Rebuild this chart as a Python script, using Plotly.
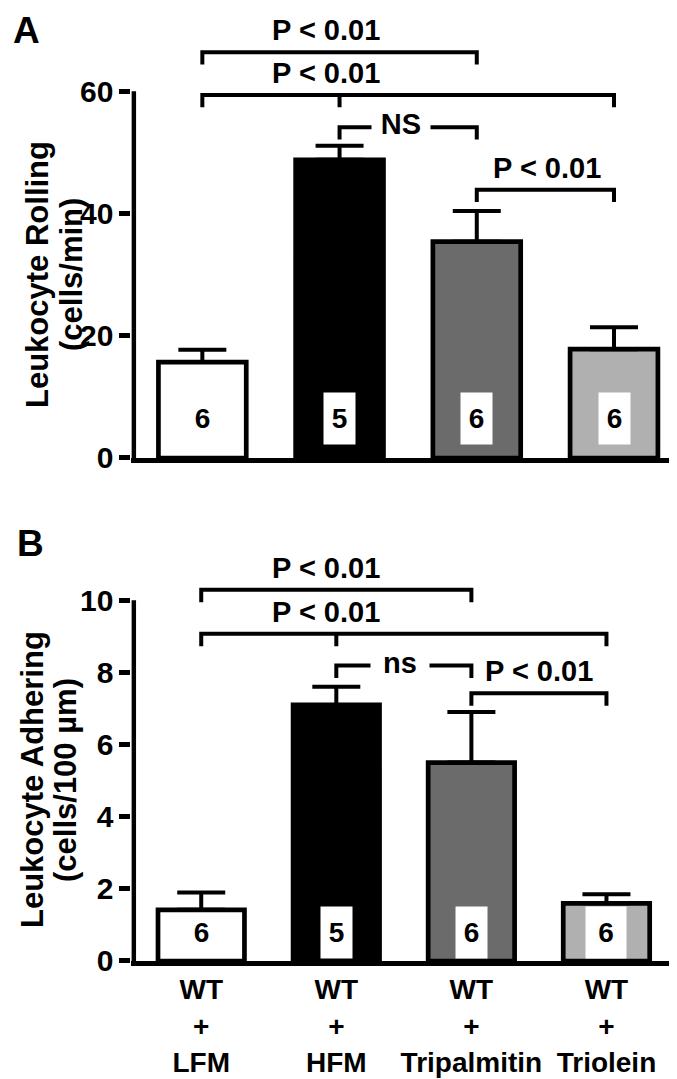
import plotly.graph_objects as go

# ---------------- data ----------------
groups = ["LFM", "HFM", "Tripalmitin", "Triolein"]
tick_text = ["WT<br>+<br>LFM", "WT<br>+<br>HFM", "WT<br>+<br>Tripalmitin", "WT<br>+<br>Triolein"]
n_mice = [6, 5, 6, 6]

rolling_mean = [15.7, 48.8, 35.4, 17.8]
rolling_sem = [2.0, 2.3, 5.0, 3.6]

adhering_mean = [1.42, 7.1, 5.5, 1.6]
adhering_sem = [0.48, 0.5, 1.4, 0.25]

rolling_ticks = [0, 20, 40, 60]
adhering_ticks = [0, 2, 4, 6, 8, 10]

# brackets: (start group, end group, level, label, label position, middle tick group)
brackets_rolling = [
    (0, 2, 66.4, "P < 0.01", 0.9, None),
    (0, 3, 59.4, "P < 0.01", 0.9, 1),
    (1, 2, 54.1, "NS", 1.45, None),
    (2, 3, 43.9, "P < 0.01", 2.51, None),
]
brackets_adhering = [
    (0, 2, 10.29, "P < 0.01", 0.92, None),
    (0, 3, 9.07, "P < 0.01", 0.92, 1),
    (1, 2, 8.19, "ns", 1.47, None),
    (2, 3, 7.42, "P < 0.01", 2.5, None),
]

# ---------------- style ----------------
W, H = 677, 1079
FONT = "Liberation Sans, Arial, Helvetica, sans-serif"
bar_colors = ["#ffffff", "#000000", "#6b6b6b", "#b0b0b0"]
LW = 4.7

def px_x(p):
    return p / W

def px_y(p):
    return 1 - p / H

fig = go.Figure()

positions = list(range(len(groups)))

panels = [
    dict(mean=rolling_mean, sem=rolling_sem, xa="x", ya="y", top=rolling_ticks[-1]),
    dict(mean=adhering_mean, sem=adhering_sem, xa="x2", ya="y2", top=adhering_ticks[-1]),
]

for p in panels:
    fig.add_trace(go.Bar(
        x=positions, y=p["mean"], xaxis=p["xa"], yaxis=p["ya"],
        width=0.64,
        marker=dict(color=bar_colors, line=dict(color="black", width=LW)),
        error_y=dict(type="data", array=p["sem"], arrayminus=[0] * len(p["sem"]),
                     symmetric=False, color="black", thickness=4, width=24),
        showlegend=False, hoverinfo="skip",
    ))
    # vertical axis line, from 0 up to the top tick only
    fig.add_trace(go.Scatter(
        x=[-0.5, -0.5], y=[0, p["top"]], xaxis=p["xa"], yaxis=p["ya"],
        mode="lines", line=dict(color="black", width=LW),
        showlegend=False, hoverinfo="skip",
    ))

annotations = []
label_font = dict(family=FONT, size=29, color="black", weight="bold")
n_font = dict(family=FONT, size=28, color="black", weight="bold")

def add_brackets(brackets, xa, ya, tip):
    for (a, b, lvl, label, lx, mid) in brackets:
        fig.add_trace(go.Scatter(
            x=[a, a, b, b], y=[lvl - tip, lvl, lvl, lvl - tip], xaxis=xa, yaxis=ya,
            mode="lines", line=dict(color="black", width=4), cliponaxis=False,
            showlegend=False, hoverinfo="skip",
        ))
        if mid is not None:
            fig.add_trace(go.Scatter(
                x=[mid, mid], y=[lvl, lvl - tip], xaxis=xa, yaxis=ya,
                mode="lines", line=dict(color="black", width=4), cliponaxis=False,
                showlegend=False, hoverinfo="skip",
            ))
        if label.lower() == "ns":
            annotations.append(dict(
                x=lx, y=lvl, xref=xa, yref=ya, text=label, showarrow=False,
                font=label_font, bgcolor="white", width=56, height=30, yshift=3,
            ))
        else:
            annotations.append(dict(
                x=lx, y=lvl, xref=xa, yref=ya, text=label, showarrow=False,
                font=label_font, yshift=22,
            ))

add_brackets(brackets_rolling, "x", "y", 2.0)
add_brackets(brackets_adhering, "x2", "y2", 0.345)

# n labels in white boxes
for i, n in enumerate(n_mice):
    box = "white" if bar_colors[i] != "#ffffff" else "rgba(0,0,0,0)"
    annotations.append(dict(
        x=i, y=6.5, xref="x", yref="y", text=str(n), showarrow=False,
        font=n_font, bgcolor=box, width=31, height=51, borderpad=0,
    ))
    annotations.append(dict(
        x=i, y=0.79, xref="x2", yref="y2", text=str(n), showarrow=False,
        font=n_font, bgcolor=box, width=40 if i == 3 else 31, height=51, borderpad=0,
    ))

# axis titles
title_font = dict(family=FONT, size=31, color="black", weight="bold")
for text, xp, yp in [("Leukocyte Rolling", 30, 267), ("(cells/min)", 64, 267),
                     ("Leukocyte Adhering", 24, 772), ("(cells/100 µm)", 57, 772)]:
    annotations.append(dict(
        x=px_x(xp), y=px_y(yp), xref="paper", yref="paper", text=text,
        textangle=-90, showarrow=False, font=title_font,
        xanchor="center", yanchor="middle",
    ))

# panel letters
for text, xp, yp in [("A", 3, 0), ("B", 7, 513)]:
    annotations.append(dict(
        x=px_x(xp), y=px_y(yp), xref="paper", yref="paper", text=text,
        showarrow=False, font=dict(family=FONT, size=37, color="black", weight="bold"),
        xanchor="left", yanchor="top",
    ))

tickfont = dict(family=FONT, size=30, color="black", weight="bold")
common_y = dict(showline=False, ticks="outside", ticklen=11, tickwidth=LW,
                tickcolor="black", showgrid=False, zeroline=False,
                tickfont=tickfont, automargin=False)
common_x = dict(showline=True, linecolor="black", linewidth=LW, ticks="",
                showgrid=False, zeroline=False, automargin=False,
                tickvals=positions)

# pixel geometry of the plot areas
A_bottom, A_unit = 450.0, (450.0 - 83.3) / 60
B_bottom, B_unit = 953.0, (953.0 - 592.3) / 10
A_top_val, B_top_val = 68, 10.6

fig.update_layout(
    width=W, height=H,
    margin=dict(l=0, r=0, t=0, b=0),
    paper_bgcolor="white", plot_bgcolor="white",
    xaxis=dict(domain=[px_x(123.4), px_x(665)], range=[-0.517, 3.43],
               showticklabels=False, anchor="y", **common_x),
    yaxis=dict(domain=[px_y(A_bottom), px_y(A_bottom - A_top_val * A_unit)],
               range=[0, A_top_val], tickvals=rolling_ticks, anchor="x", **common_y),
    xaxis2=dict(domain=[px_x(123.4), px_x(666)], range=[-0.517, 3.5],
                ticktext=tick_text, showticklabels=True,
                tickfont=dict(family=FONT, size=28, color="black", weight="bold"),
                anchor="y2", **common_x),
    yaxis2=dict(domain=[px_y(B_bottom), px_y(B_bottom - B_top_val * B_unit)],
                range=[0, B_top_val], tickvals=adhering_ticks, anchor="x2", **common_y),
    annotations=annotations,
)

fig.write_html("out.html")
